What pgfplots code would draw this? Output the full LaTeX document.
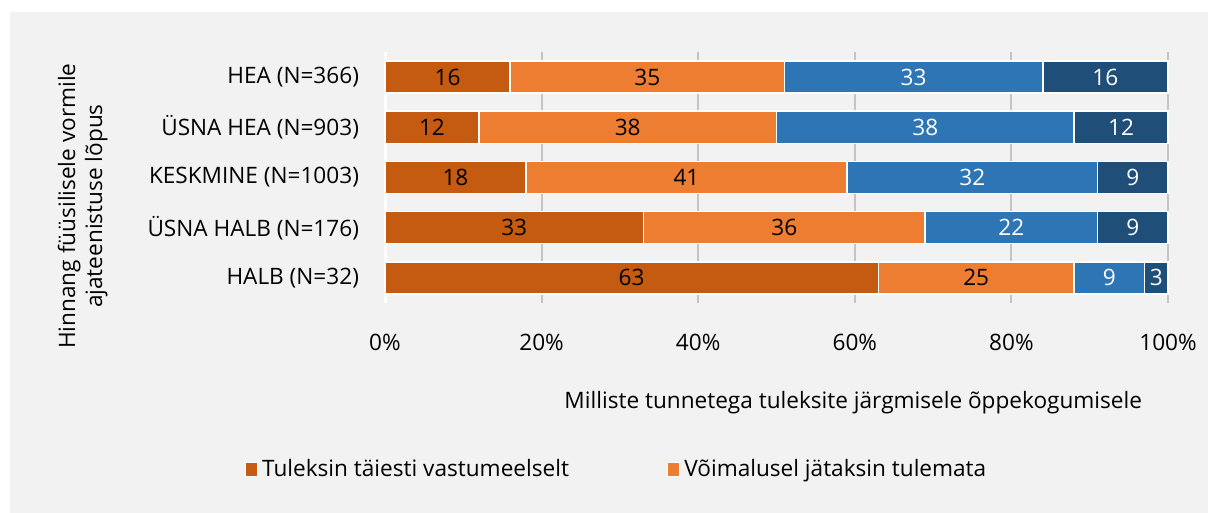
\documentclass[border=0pt]{standalone}
\usepackage{pgfplots}
\pgfplotsset{compat=1.18}
\usepackage{fontspec}
\setmainfont{Open Sans}
\definecolor{bg}{HTML}{F2F2F2}
\definecolor{cA}{HTML}{C55A11}
\definecolor{cB}{HTML}{ED7D31}
\definecolor{cC}{HTML}{2E75B6}
\definecolor{cD}{HTML}{1F4E79}
\definecolor{gridc}{HTML}{C4C4C4}
\newcommand{\fs}{\fontsize{11.3}{13}\selectfont}
\begin{document}
\begin{tikzpicture}
\fill[white] (0pt,0pt) rectangle (604pt,256.5pt);
\fill[bg] (5pt,0pt) rectangle (604pt,250.5pt);
\begin{axis}[
  at={(192.5pt,105pt)}, anchor=south west,
  scale only axis, width=391.5pt, height=125.5pt,
  xbar stacked, bar width=16pt,
  xmin=0, xmax=100, ymin=-0.5, ymax=4.5,
  ytick={0,1,2,3,4},
  yticklabels={HALB (N=32),ÜSNA HALB (N=176),KESKMINE (N=1003),ÜSNA HEA (N=903),HEA (N=366)},
  xtick={0,20,40,60,80,100},
  xticklabel={\pgfmathprintnumber{\tick}\%},
  /pgf/number format/assume math mode=true,
  tick style={draw=none},
  xmajorgrids, grid style={gridc, line width=1pt},
  axis line style={draw=none},
  ticklabel style={font=\fs, text=black},
  xticklabel style={yshift=-12pt},
  yticklabel style={xshift=-9.5pt},
  xlabel={Milliste tunnetega tuleksite järgmisele õppekogumisele},
  xlabel style={at={(axis description cs:0.598,-0.395)}, anchor=center, font=\fs},
  ylabel={Hinnang füüsilisele vormile\\ajateenistuse lõpus},
  ylabel style={at={(axis description cs:-0.386,0.386)}, anchor=center, align=center, font=\fontsize{11.3}{13.5}\selectfont},
  legend style={at={(axis description cs:0.297,-0.665)}, anchor=center, draw=none, fill=none,
    legend columns=2, font=\fs,
    /tikz/every even column/.append style={column sep=47pt}},
  legend image code/.code={\fill[#1, draw=white, line width=0.7pt] (0pt,-3.3pt) rectangle (6pt,3.7pt);},
  nodes near coords, point meta=rawx,
  every node near coord/.style={anchor=center, font=\fs},
  clip=false,
]
\addplot[fill=cA, draw=white, line width=0.8pt, every node near coord/.append style={text=black}] coordinates {(63,0) (33,1) (18,2) (12,3) (16,4)};
\addplot[fill=cB, draw=white, line width=0.8pt, every node near coord/.append style={text=black}] coordinates {(25,0) (36,1) (41,2) (38,3) (35,4)};
\addplot[fill=cC, draw=white, line width=0.8pt, every node near coord/.append style={text=white}] coordinates {(9,0) (22,1) (32,2) (38,3) (33,4)};
\addplot[fill=cD, draw=white, line width=0.8pt, every node near coord/.append style={text=white}] coordinates {(3,0) (9,1) (9,2) (12,3) (16,4)};
\legend{Tuleksin täiesti vastumeelselt, Võimalusel jätaksin tulemata}
\draw[white, line width=1.5pt] (axis cs:0,-0.5) -- (axis cs:0,4.5);
\end{axis}
\end{tikzpicture}
\end{document}
